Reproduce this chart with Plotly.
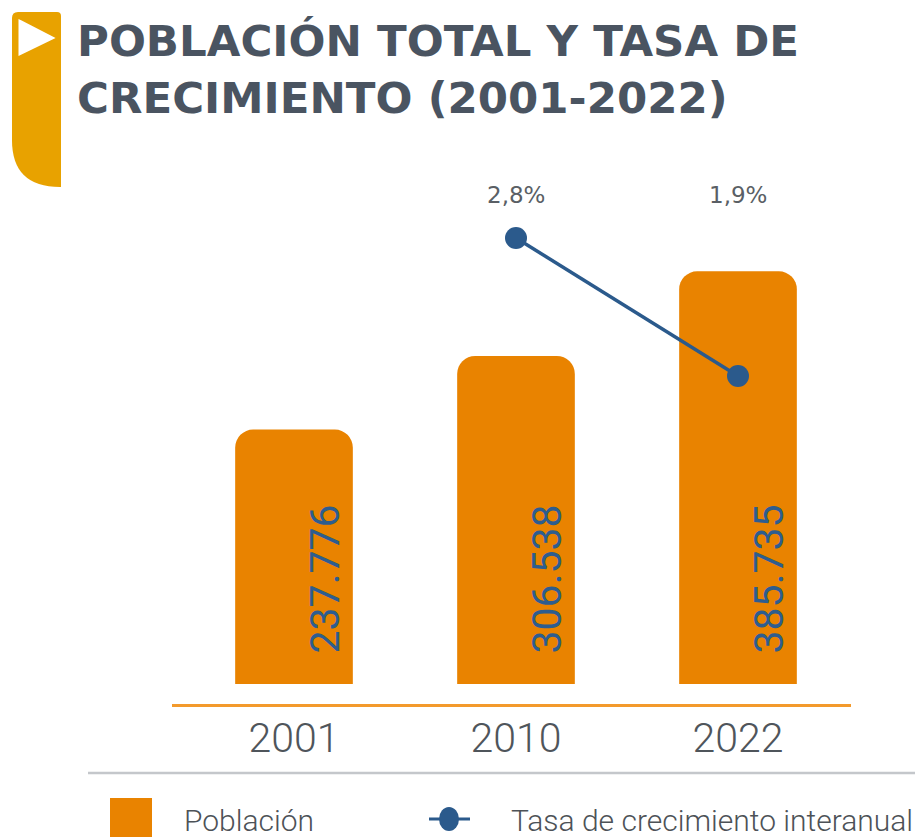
import plotly.graph_objects as go

# ---- data ----
years = ["2001", "2010", "2022"]
population = [237776, 306538, 385735]
population_labels = ["237.776", "306.538", "385.735"]
growth_years = ["2010", "2022"]
growth_rate = [2.8, 1.9]
growth_labels = ["2,8%", "1,9%"]

# ---- colours ----
BAR = "#E98300"
TAB = "#E8A200"
LINE = "#2B5A8C"
TITLE = "#4A5461"
GREY = "#4D5257"

W, H = 923, 837
OFF = 8  # page body margin offset
# plot area in reference pixels
PL, PR, PT, PB = 172, 851, 180, 704
L, T = PL - OFF, PT - OFF
R, B = W - (PR - OFF), H - (PB - OFF)
PW, PH = PR - PL, PB - PT

def px(x):
    return (x - PL) / PW

def py(y):
    return (PB - y) / PH

# primary axis: value 0 at ref pixel 684, 0.001070 px per unit
zero_px = 684
scale = 0.001070
y0 = -(PB - zero_px) / scale
y1 = y0 + PH / scale

# secondary axis: 2.8 at px 238, 1.9 at px 376
s2 = (376 - 238) / (growth_rate[0] - growth_rate[1])
y2_top = growth_rate[0] + (238 - PT) / s2
y2_bot = y2_top - PH / s2

fig = go.Figure()
fig.add_trace(go.Bar(
    x=years, y=population, marker=dict(color=BAR, line=dict(width=0)),
    width=0.53, name="Población", showlegend=False, hoverinfo="skip",
))
fig.add_trace(go.Scatter(
    x=growth_years, y=growth_rate, yaxis="y2", mode="lines+markers",
    line=dict(color=LINE, width=3.5), marker=dict(size=22, color=LINE),
    name="Tasa de crecimiento interanual", showlegend=False, hoverinfo="skip",
))

annotations = []
# value labels inside bars (rotated)
for yr, v, lab in zip(years, population, population_labels):
    annotations.append(dict(
        x=years.index(yr), y=0, xref="x", yref="y", text=lab, showarrow=False,
        textangle=-90, xanchor="center", yanchor="bottom", xshift=30, yshift=28,
        font=dict(family="Roboto", size=41, color="#2E5D8F"),
    ))
# growth labels at top
for yr, lab in zip(growth_years, growth_labels):
    annotations.append(dict(
        x=years.index(yr), y=py(195), xref="x", yref="paper", text=lab, showarrow=False,
        xanchor="center", yanchor="middle",
        font=dict(family="DejaVu Sans", size=23, color="#5A5F65"),
    ))
# title
annotations.append(dict(
    x=px(75), y=py(14), xref="paper", yref="paper", xanchor="left", yanchor="top",
    align="left", showarrow=False,
    text="<b>POBLACIÓN TOTAL Y TASA DE<br>CRECIMIENTO (2001-2022)</b>",
    font=dict(family="DejaVu Sans", size=43.5, color=TITLE),
))
# legend texts
annotations.append(dict(
    x=px(182), y=py(820), xref="paper", yref="paper", xanchor="left", yanchor="middle",
    showarrow=False, text="Población",
    font=dict(family="Roboto", size=30, color=GREY, weight=300),
))
annotations.append(dict(
    x=px(509), y=py(820), xref="paper", yref="paper", xanchor="left", yanchor="middle",
    showarrow=False, text="Tasa de crecimiento interanual",
    font=dict(family="Roboto", size=30, color=GREY, weight=300),
))

def P(x, y):
    return f"{px(x):.5f},{py(y):.5f}"

tab_path = (f"M{P(12,18)} Q{P(12,12)} {P(18,12)} L{P(57,12)} Q{P(61,12)} {P(61,16)} "
            f"L{P(61,187)} L{P(60,187)} Q{P(12,187)} {P(12,140)} Z")
tri_path = f"M{P(21,23)} L{P(50,38)} L{P(21,52)} Z"

shapes = [
    dict(type="path", path=tab_path, xref="paper", yref="paper",
         fillcolor=TAB, line=dict(width=0), layer="above"),
    dict(type="path", path=tri_path, xref="paper", yref="paper",
         fillcolor="white", line=dict(color="white", width=5), layer="above"),
    # grey separator
    dict(type="line", xref="paper", yref="paper", x0=px(88), x1=px(935),
         y0=py(773), y1=py(773), line=dict(color="#C4C7CB", width=2.5)),
    # legend: orange square
    dict(type="rect", xref="paper", yref="paper", x0=px(110), x1=px(152),
         y0=py(798), y1=py(845), fillcolor=BAR, line=dict(width=0)),
    # legend: blue line + dot
    dict(type="line", xref="paper", yref="paper", x0=px(429), x1=px(470),
         y0=py(819), y1=py(819), line=dict(color=LINE, width=3)),
    dict(type="circle", xref="paper", yref="paper", x0=px(439), x1=px(459),
         y0=py(807), y1=py(831), fillcolor=LINE, line=dict(width=0)),
]

fig.update_layout(
    width=W, height=H, margin=dict(l=L, r=R, t=T, b=B, autoexpand=False),
    paper_bgcolor="white", plot_bgcolor="white",
    barcornerradius=18, showlegend=False,
    xaxis=dict(type="category", range=[-(294 - PL) / 222, 2 + (PR - 738) / 222],
               showgrid=False, zeroline=False, showline=True, linecolor="#F39A2C",
               linewidth=2.5, ticks="", ticklabelstandoff=-4,
               tickfont=dict(family="Roboto", size=41, color="#4F555B", weight=300),
               fixedrange=True),
    yaxis=dict(range=[y0, y1], visible=False, fixedrange=True),
    yaxis2=dict(range=[y2_bot, y2_top], overlaying="y", side="right", visible=False,
                fixedrange=True),
    annotations=annotations, shapes=shapes,
)

fig.write_html("out.html")
